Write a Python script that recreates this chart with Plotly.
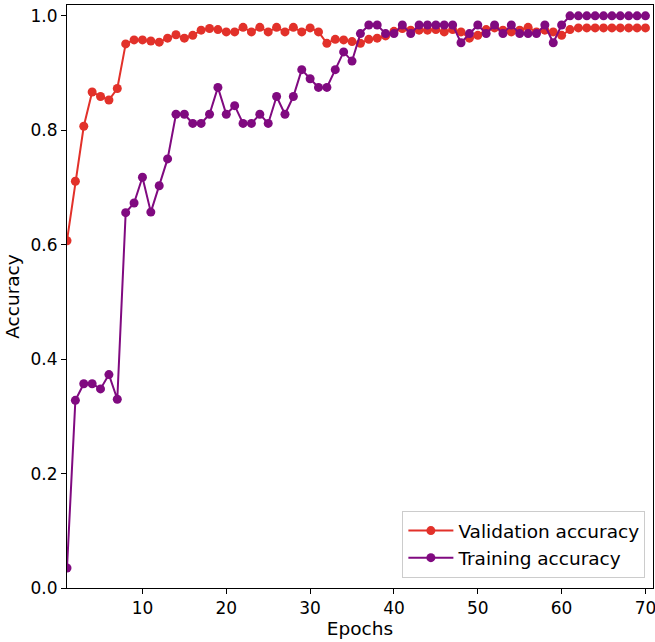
import plotly.graph_objects as go

epochs = list(range(1, 71))
val_acc = [0.607, 0.711, 0.807, 0.867, 0.859, 0.853, 0.873, 0.951, 0.958, 0.958,
           0.956, 0.954, 0.961, 0.967, 0.961, 0.966, 0.975, 0.978, 0.976, 0.972,
           0.972, 0.980, 0.972, 0.980, 0.972, 0.980, 0.972, 0.980, 0.972, 0.979,
           0.972, 0.952, 0.959, 0.958, 0.955, 0.952, 0.959, 0.961, 0.965, 0.973,
           0.978, 0.975, 0.975, 0.975, 0.976, 0.972, 0.976, 0.972, 0.961, 0.966,
           0.976, 0.979, 0.975, 0.972, 0.975, 0.980, 0.972, 0.975, 0.972, 0.966,
           0.976, 0.979, 0.979, 0.979, 0.979, 0.979, 0.979, 0.979, 0.979, 0.979]
train_acc = [0.035, 0.328, 0.357, 0.357, 0.348, 0.373, 0.330, 0.656, 0.673, 0.718,
             0.657, 0.703, 0.750, 0.828, 0.828, 0.812, 0.812, 0.828, 0.875, 0.828,
             0.843, 0.812, 0.812, 0.828, 0.812, 0.859, 0.828, 0.859, 0.906, 0.890,
             0.875, 0.875, 0.906, 0.937, 0.921, 0.969, 0.984, 0.984, 0.969, 0.969,
             0.984, 0.969, 0.984, 0.984, 0.984, 0.984, 0.984, 0.953, 0.969, 0.984,
             0.969, 0.984, 0.969, 0.984, 0.969, 0.969, 0.969, 0.984, 0.953, 0.984,
             1.0, 1.0, 1.0, 1.0, 1.0, 1.0, 1.0, 1.0, 1.0, 1.0]
x_ticks = [10, 20, 30, 40, 50, 60, 70]
y_ticks = [0.0, 0.2, 0.4, 0.6, 0.8, 1.0]

RED = "#e2312a"
PURPLE = "#800a80"

fig = go.Figure()
fig.add_trace(go.Scatter(x=epochs, y=val_acc, mode="lines+markers", name="Validation accuracy",
                         line=dict(color=RED, width=2), marker=dict(color=RED, size=9)))
fig.add_trace(go.Scatter(x=epochs, y=train_acc, mode="lines+markers", name="Training accuracy",
                         line=dict(color=PURPLE, width=2), marker=dict(color=PURPLE, size=9)))

axis_common = dict(showline=True, linecolor="black", linewidth=1, mirror=True,
                   ticks="outside", ticklen=5, tickcolor="black", showgrid=False,
                   zeroline=False, automargin=False, ticklabeloverflow="allow",
                   tickfont=dict(size=17, color="black"))
fig.update_xaxes(range=[1, 70.9], tickvals=x_ticks,
                 title=dict(text="Epochs", font=dict(size=18.5, color="black"), standoff=4),
                 **axis_common)
fig.update_yaxes(range=[0, 1.019], tickvals=y_ticks, tickformat=".1f",
                 title=dict(text="Accuracy", font=dict(size=18.5, color="black"), standoff=6),
                 **axis_common)

fig.update_layout(
    width=655, height=642,
    margin=dict(l=67, r=2, t=5, b=54),
    plot_bgcolor="white", paper_bgcolor="white",
    font=dict(family="DejaVu Sans", color="black"),
    legend=dict(x=0.987, y=0.017, xanchor="right", yanchor="bottom",
                bordercolor="#cccccc", borderwidth=1, bgcolor="rgba(255,255,255,0.8)",
                itemwidth=45, font=dict(size=18.5, color="black")),
)
fig.write_html("out.html", config={"displayModeBar": False},
               post_script="document.body.style.margin='0';document.body.style.overflow='hidden';")
